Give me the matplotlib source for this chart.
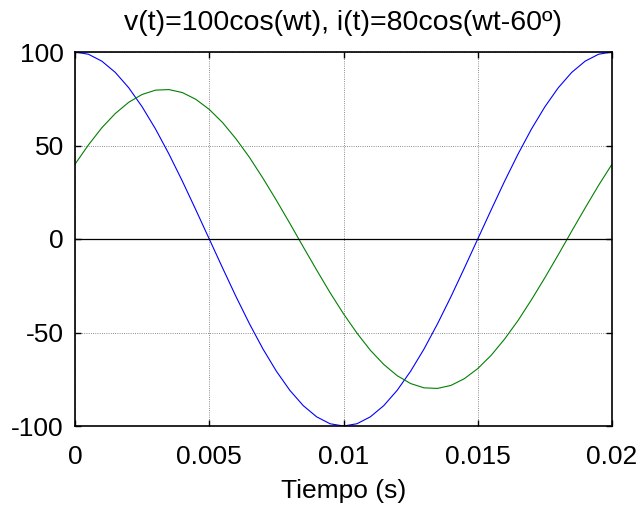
import matplotlib
matplotlib.use("Agg")
import matplotlib.pyplot as plt

plt.rcParams['font.family'] = ['Liberation Sans', 'DejaVu Sans']
plt.rcParams['axes.unicode_minus'] = False

# time samples (s)
t = [k * 0.0005 for k in range(41)]
# voltage v(t)
v = [100.0, 98.8, 95.1, 89.1, 80.9, 70.7, 58.8, 45.4, 30.9, 15.6, 0.0,
     -15.6, -30.9, -45.4, -58.8, -70.7, -80.9, -89.1, -95.1, -98.8, -100.0,
     -98.8, -95.1, -89.1, -80.9, -70.7, -58.8, -45.4, -30.9, -15.6, 0.0,
     15.6, 30.9, 45.4, 58.8, 70.7, 80.9, 89.1, 95.1, 98.8, 100.0]
# current i(t)
i = [40.0, 50.3, 59.5, 67.1, 73.1, 77.3, 79.6, 79.9, 78.3, 74.7, 69.3,
     62.2, 53.5, 43.6, 32.5, 20.7, 8.4, -4.2, -16.6, -28.7, -40.0,
     -50.3, -59.5, -67.1, -73.1, -77.3, -79.6, -79.9, -78.3, -74.7, -69.3,
     -62.2, -53.5, -43.6, -32.5, -20.7, -8.4, 4.2, 16.6, 28.7, 40.0]

xticks = [0, 0.005, 0.01, 0.015, 0.02]
xticklabels = ['0', '0.005', '0.01', '0.015', '0.02']
yticks = [-100, -50, 0, 50, 100]
yticklabels = ['-100', '-50', '0', '50', '100']
title = 'v(t)=100cos(wt), i(t)=80cos(wt-60º)'
xlabel = 'Tiempo (s)'

fig = plt.figure(figsize=(6.44, 5.08), dpi=100)
ax = fig.add_axes([75/644, 1 - 426/508, (612-75)/644, (426-52)/508])

ax.plot(t, v, color='#0000ff', linewidth=0.8)
ax.plot(t, i, color='#008000', linewidth=0.8)
ax.axhline(0, color='black', linewidth=0.9)

ax.set_xlim(0, 0.02)
ax.set_ylim(-100, 100)
ax.set_xticks(xticks)
ax.set_xticklabels(xticklabels)
ax.set_yticks(yticks)
ax.set_yticklabels(yticklabels)
ax.grid(True, color='#666666', linestyle=':', linewidth=0.6)
ax.tick_params(direction='in', length=4, width=1, top=True, right=True,
               labelsize=19)
ax.tick_params(axis='x', pad=14)
ax.tick_params(axis='y', pad=8)
for s in ax.spines.values():
    s.set_linewidth(1.2)
ax.set_title(title, fontsize=20.5, pad=16)
ax.set_xlabel(xlabel, fontsize=19, labelpad=7)

fig.savefig('out.png', dpi=100)
